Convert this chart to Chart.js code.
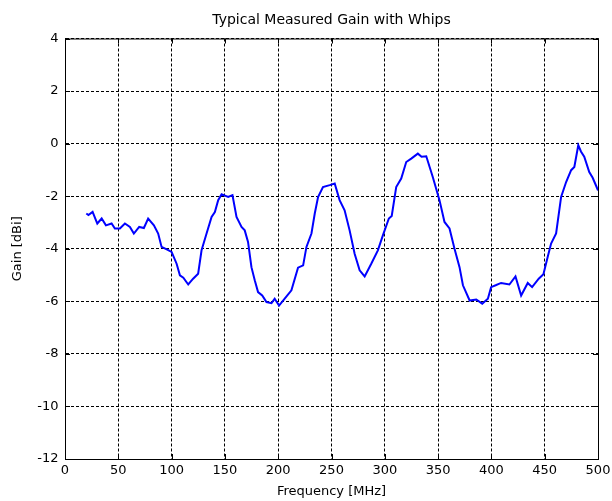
<!DOCTYPE html>
<html>
<head>
<meta charset="UTF-8">
<title>Typical Measured Gain with Whips</title>
<script src="https://cdn.jsdelivr.net/npm/chart.js@4.4.0/dist/chart.umd.min.js"></script>
<style>
  html, body { margin: 0; padding: 0; background: #fff; }
</style>
</head>
<body>
	<canvas id="myChart" width="612" height="501" style="width:612px;height:501px"></canvas>

	<script>
		// frequency [MHz] and gain [dBi]
		let freq = [20, 22, 25.9, 30.3, 34.4, 38.4, 43.7, 46.8, 51.5, 56.2, 60.9, 64.6, 69.6, 74, 78, 83.4, 87.4, 90.6, 95.9, 100,
			104.7, 107.8, 111, 115.6, 120.2, 124.9, 128.1, 132.8, 137.5, 140.6, 143.7, 146.9, 150, 153.1, 157.1, 160.9, 165.6,
			168.6, 171.7, 174.9, 178, 181.1, 185, 189, 193.7, 196.7, 200.8, 206.1, 212.4, 218.6, 223.4, 226.5, 231.2, 234.3,
			237.4, 242, 248.3, 253, 257.6, 262.3, 267, 271.7, 276.4, 281.1, 287.3, 293.5, 298.2, 303.8, 306.5, 310.7, 315.4,
			320.1, 324.8, 331, 334.5, 338.9, 345, 351.3, 356, 360.7, 365.4, 370.1, 373.3, 379.6, 385.8, 391.4, 396.7, 399.7,
			404, 409.1, 416.9, 422.6, 427.9, 434.1, 438.2, 444.4, 448.8, 452.8, 456, 460.7, 465.4, 470.1, 474.8, 477.8, 481.5,
			484, 487.1, 491.8, 495, 498.7, 500];
		let gain = [-2.66, -2.72, -2.6, -3.04, -2.85, -3.11, -3.04, -3.23, -3.23, -3.04, -3.17, -3.42, -3.17, -3.21, -2.85, -3.11, -3.42, -3.93, -4.03, -4.12,
			-4.57, -5.01, -5.1, -5.36, -5.14, -4.95, -4.06, -3.42, -2.79, -2.6, -2.15, -1.93, -1.98, -2.03, -1.96, -2.79, -3.17,
			-3.3, -3.74, -4.7, -5.2, -5.65, -5.78, -6.03, -6.07, -5.9, -6.16, -5.9, -5.58, -4.72, -4.63, -3.93, -3.42, -2.66,
			-2.03, -1.65, -1.58, -1.52, -2.15, -2.54, -3.3, -4.19, -4.82, -5.05, -4.57, -4.06, -3.49, -2.85, -2.75, -1.65, -1.33,
			-0.7, -0.57, -0.38, -0.5, -0.48, -1.27, -2.15, -2.98, -3.23, -4.0, -4.7, -5.39, -5.97, -5.93, -6.09, -5.9, -5.46,
			-5.39, -5.3, -5.36, -5.05, -5.78, -5.3, -5.46, -5.14, -4.97, -4.31, -3.8, -3.42, -2.03, -1.46, -1.01, -0.89, -0.06,
			-0.3, -0.5, -1.08, -1.3, -1.65, -1.78];

		let points = freq.map(function(f, i) { return {x: f, y: gain[i]}; });

		// solid frame round the plot area plus short inward tick marks
		const frame = {
			id: 'frame',
			afterDraw: function(chart) {
				const a = chart.chartArea, ctx = chart.ctx;
				const xs = chart.scales.x, ys = chart.scales.y;
				ctx.save();
				ctx.strokeStyle = '#000';
				ctx.lineWidth = 1;
				ctx.strokeRect(a.left + 0.5, a.top + 0.5, a.right - a.left, a.bottom - a.top);
				ctx.beginPath();
				xs.ticks.forEach(function(t) {
					let px = Math.round(xs.getPixelForValue(t.value)) + 0.5;
					ctx.moveTo(px, a.bottom); ctx.lineTo(px, a.bottom - 5);
					ctx.moveTo(px, a.top); ctx.lineTo(px, a.top + 5);
				});
				ys.ticks.forEach(function(t) {
					let py = Math.round(ys.getPixelForValue(t.value)) + 0.5;
					ctx.moveTo(a.left, py); ctx.lineTo(a.left + 5, py);
					ctx.moveTo(a.right, py); ctx.lineTo(a.right - 5, py);
				});
				ctx.stroke();
				ctx.restore();
			}
		};

		Chart.defaults.font.family = '"DejaVu Sans", sans-serif';
		Chart.defaults.font.size = 13;
		Chart.defaults.color = '#000';

		new Chart("myChart", {
			type: "line",
			data: {
				datasets: [{
					data: points,
					borderColor: "#0000ff",
					borderWidth: 2,
					pointRadius: 0,
					fill: false,
					tension: 0
				}]
			},
			options: {
				responsive: false,
				animation: false,
				layout: {padding: {left: 0, right: 14, top: 0, bottom: 0}},
				plugins: {
					legend: {display: false},
					tooltip: {enabled: false},
					title: {
						display: true,
						fullSize: false,
						text: "Typical Measured Gain with Whips",
						font: {size: 14, weight: 'normal'},
						padding: {top: 12, bottom: 9.7}
					}
				},
				scales: {
					x: {
						type: 'linear',
						min: 0, max: 500,
						ticks: {stepSize: 50, padding: 4},
						grid: {color: '#000', drawTicks: false},
						border: {display: true, color: '#000', dash: [3, 2]},
						title: {display: true, text: 'Frequency [MHz]', padding: {top: 2, bottom: 2}},
						afterFit: function(s) { s.height = 42; s.paddingLeft = 0; s.paddingRight = 0; }
					},
					y: {
						min: -12, max: 4,
						ticks: {stepSize: 2, padding: 6.5},
						grid: {color: '#000', drawTicks: false},
						border: {display: true, color: '#000', dash: [3, 2]},
						title: {display: true, text: 'Gain [dBi]', padding: {top: 10, bottom: 0}},
						afterFit: function(s) { s.width = 65; s.paddingTop = 0; s.paddingBottom = 0; }
					}
				}
			},
			plugins: [frame]
		});
	</script>
</body>
</html>
